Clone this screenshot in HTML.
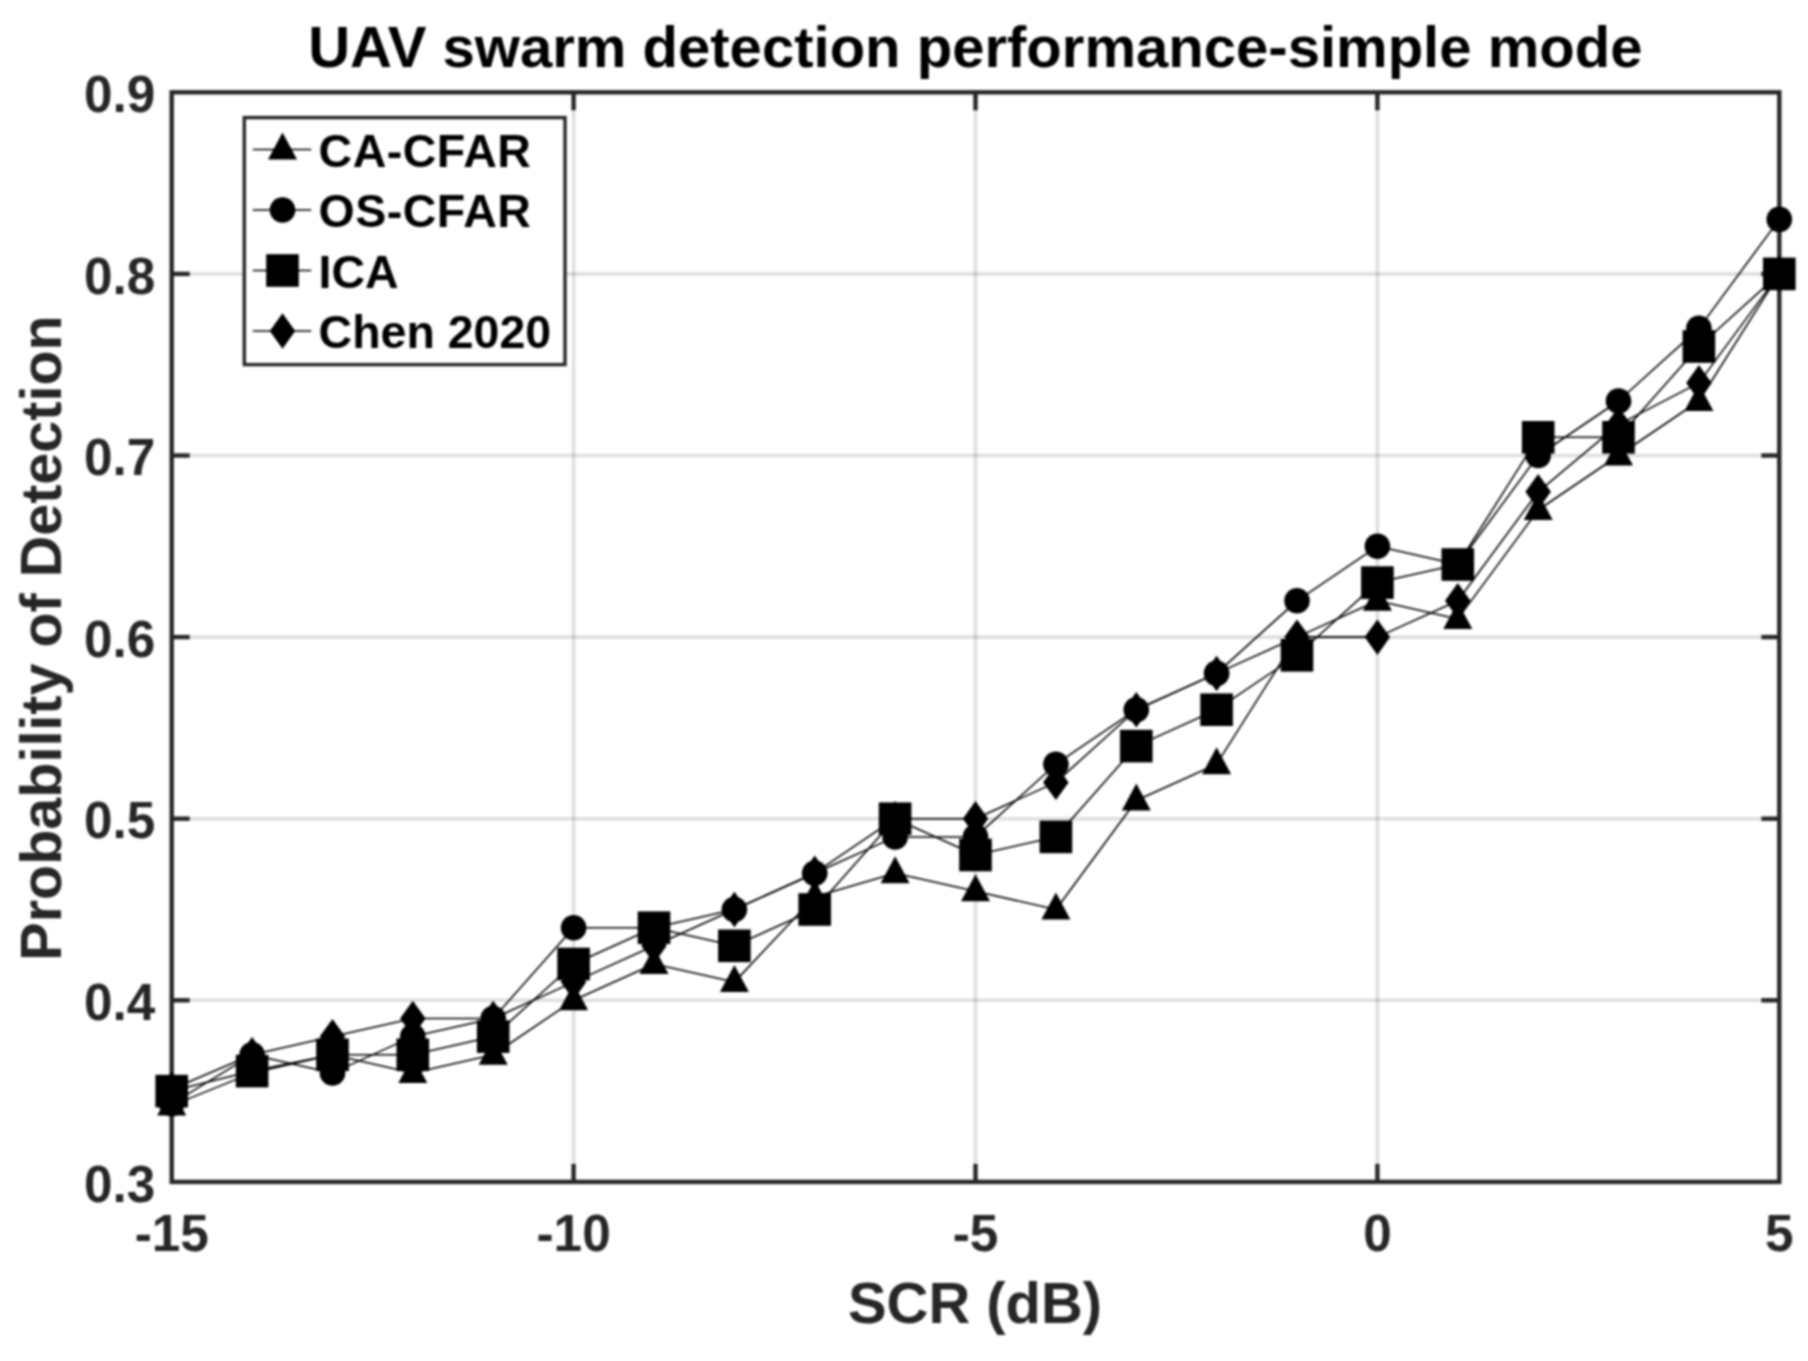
<!DOCTYPE html>
<html lang="en"><head><meta charset="utf-8"><title>UAV swarm detection performance-simple mode</title>
<style>
html,body{margin:0;padding:0;background:#fff;}
body{width:1808px;height:1361px;overflow:hidden;}
svg{display:block;font-family:"Liberation Sans",Arial,Helvetica,sans-serif;font-weight:bold;}
.tick{font-size:51.3px;fill:#262626;}
.lab{font-size:57.5px;fill:#262626;}
.ttl{font-size:58.05px;fill:#000;}
.leg{font-size:46.5px;fill:#000;}
</style></head><body>
<svg width="1808" height="1361" viewBox="0 0 1808 1361">
<defs><filter id="soft" color-interpolation-filters="sRGB" filterUnits="userSpaceOnUse" x="0" y="0" width="1808" height="1361"><feGaussianBlur stdDeviation="0.9" color-interpolation-filters="sRGB"/></filter></defs>
<g filter="url(#soft)">
<rect width="1808" height="1361" fill="#fff"/>
<g stroke="#262626" stroke-opacity="0.15" stroke-width="3.6" fill="none">
<line x1="573.6" y1="92.3" x2="573.6" y2="1181.9"/>
<line x1="975.5" y1="92.3" x2="975.5" y2="1181.9"/>
<line x1="1377.4" y1="92.3" x2="1377.4" y2="1181.9"/>
<line x1="171.7" y1="1000.3" x2="1779.3" y2="1000.3"/>
<line x1="171.7" y1="818.7" x2="1779.3" y2="818.7"/>
<line x1="171.7" y1="637.1" x2="1779.3" y2="637.1"/>
<line x1="171.7" y1="455.5" x2="1779.3" y2="455.5"/>
<line x1="171.7" y1="273.9" x2="1779.3" y2="273.9"/>
</g>
<g stroke="#262626" stroke-width="4.4" fill="none">
<rect x="171.7" y="92.3" width="1607.6" height="1089.6000000000001"/>
<line x1="573.6" y1="1181.9" x2="573.6" y2="1163.9"/>
<line x1="573.6" y1="92.3" x2="573.6" y2="110.3"/>
<line x1="975.5" y1="1181.9" x2="975.5" y2="1163.9"/>
<line x1="975.5" y1="92.3" x2="975.5" y2="110.3"/>
<line x1="1377.4" y1="1181.9" x2="1377.4" y2="1163.9"/>
<line x1="1377.4" y1="92.3" x2="1377.4" y2="110.3"/>
<line x1="171.7" y1="1000.3" x2="189.7" y2="1000.3"/>
<line x1="1779.3" y1="1000.3" x2="1761.3" y2="1000.3"/>
<line x1="171.7" y1="818.7" x2="189.7" y2="818.7"/>
<line x1="1779.3" y1="818.7" x2="1761.3" y2="818.7"/>
<line x1="171.7" y1="637.1" x2="189.7" y2="637.1"/>
<line x1="1779.3" y1="637.1" x2="1761.3" y2="637.1"/>
<line x1="171.7" y1="455.5" x2="189.7" y2="455.5"/>
<line x1="1779.3" y1="455.5" x2="1761.3" y2="455.5"/>
<line x1="171.7" y1="273.9" x2="189.7" y2="273.9"/>
<line x1="1779.3" y1="273.9" x2="1761.3" y2="273.9"/>
</g>
<polyline points="171.7,1105.6 252.1,1072.9 332.5,1054.8 412.8,1072.9 493.2,1054.8 573.6,1000.3 654.0,964.0 734.4,982.1 814.7,896.8 895.1,873.2 975.5,891.3 1055.9,909.5 1136.3,800.5 1216.6,764.2 1297.0,637.1 1377.4,600.8 1457.8,618.9 1538.2,510.0 1618.5,455.5 1698.9,401.0 1779.3,273.9" fill="none" stroke="#000" stroke-width="1.55" stroke-linejoin="round"/>
<g fill="#000"><path d="M171.7 1088.6L186.2 1115.6L157.2 1115.6Z"/><path d="M252.1 1055.9L266.6 1082.9L237.6 1082.9Z"/><path d="M332.5 1037.8L347.0 1064.8L318.0 1064.8Z"/><path d="M412.8 1055.9L427.3 1082.9L398.3 1082.9Z"/><path d="M493.2 1037.8L507.7 1064.8L478.7 1064.8Z"/><path d="M573.6 983.3L588.1 1010.3L559.1 1010.3Z"/><path d="M654.0 947.0L668.5 974.0L639.5 974.0Z"/><path d="M734.4 965.1L748.9 992.1L719.9 992.1Z"/><path d="M814.7 879.8L829.2 906.8L800.2 906.8Z"/><path d="M895.1 856.2L909.6 883.2L880.6 883.2Z"/><path d="M975.5 874.3L990.0 901.3L961.0 901.3Z"/><path d="M1055.9 892.5L1070.4 919.5L1041.4 919.5Z"/><path d="M1136.3 783.5L1150.8 810.5L1121.8 810.5Z"/><path d="M1216.6 747.2L1231.1 774.2L1202.1 774.2Z"/><path d="M1297.0 620.1L1311.5 647.1L1282.5 647.1Z"/><path d="M1377.4 583.8L1391.9 610.8L1362.9 610.8Z"/><path d="M1457.8 601.9L1472.3 628.9L1443.3 628.9Z"/><path d="M1538.2 493.0L1552.7 520.0L1523.7 520.0Z"/><path d="M1618.5 438.5L1633.0 465.5L1604.0 465.5Z"/><path d="M1698.9 384.0L1713.4 411.0L1684.4 411.0Z"/><path d="M1779.3 256.9L1793.8 283.9L1764.8 283.9Z"/></g>
<polyline points="171.7,1103.8 252.1,1054.8 332.5,1072.9 412.8,1036.6 493.2,1018.5 573.6,927.7 654.0,927.7 734.4,909.5 814.7,873.2 895.1,836.9 975.5,836.9 1055.9,764.2 1136.3,709.7 1216.6,673.4 1297.0,600.8 1377.4,546.3 1457.8,564.5 1538.2,455.5 1618.5,401.0 1698.9,328.4 1779.3,219.4" fill="none" stroke="#000" stroke-width="1.55" stroke-linejoin="round"/>
<g fill="#000"><circle cx="171.7" cy="1103.8" r="12.8"/><circle cx="252.1" cy="1054.8" r="12.8"/><circle cx="332.5" cy="1072.9" r="12.8"/><circle cx="412.8" cy="1036.6" r="12.8"/><circle cx="493.2" cy="1018.5" r="12.8"/><circle cx="573.6" cy="927.7" r="12.8"/><circle cx="654.0" cy="927.7" r="12.8"/><circle cx="734.4" cy="909.5" r="12.8"/><circle cx="814.7" cy="873.2" r="12.8"/><circle cx="895.1" cy="836.9" r="12.8"/><circle cx="975.5" cy="836.9" r="12.8"/><circle cx="1055.9" cy="764.2" r="12.8"/><circle cx="1136.3" cy="709.7" r="12.8"/><circle cx="1216.6" cy="673.4" r="12.8"/><circle cx="1297.0" cy="600.8" r="12.8"/><circle cx="1377.4" cy="546.3" r="12.8"/><circle cx="1457.8" cy="564.5" r="12.8"/><circle cx="1538.2" cy="455.5" r="12.8"/><circle cx="1618.5" cy="401.0" r="12.8"/><circle cx="1698.9" cy="328.4" r="12.8"/><circle cx="1779.3" cy="219.4" r="12.8"/></g>
<polyline points="171.7,1091.1 252.1,1071.1 332.5,1054.8 412.8,1054.8 493.2,1036.6 573.6,964.0 654.0,927.7 734.4,945.8 814.7,909.5 895.1,818.7 975.5,855.0 1055.9,836.9 1136.3,746.1 1216.6,709.7 1297.0,655.3 1377.4,582.6 1457.8,564.5 1538.2,437.3 1618.5,437.3 1698.9,346.5 1779.3,273.9" fill="none" stroke="#000" stroke-width="1.55" stroke-linejoin="round"/>
<g fill="#000"><rect x="155.4" y="1074.8" width="32.6" height="32.6"/><rect x="235.8" y="1054.8" width="32.6" height="32.6"/><rect x="316.2" y="1038.5" width="32.6" height="32.6"/><rect x="396.5" y="1038.5" width="32.6" height="32.6"/><rect x="476.9" y="1020.3" width="32.6" height="32.6"/><rect x="557.3" y="947.7" width="32.6" height="32.6"/><rect x="637.7" y="911.4" width="32.6" height="32.6"/><rect x="718.1" y="929.5" width="32.6" height="32.6"/><rect x="798.4" y="893.2" width="32.6" height="32.6"/><rect x="878.8" y="802.4" width="32.6" height="32.6"/><rect x="959.2" y="838.7" width="32.6" height="32.6"/><rect x="1039.6" y="820.6" width="32.6" height="32.6"/><rect x="1120.0" y="729.8" width="32.6" height="32.6"/><rect x="1200.3" y="693.4" width="32.6" height="32.6"/><rect x="1280.7" y="639.0" width="32.6" height="32.6"/><rect x="1361.1" y="566.3" width="32.6" height="32.6"/><rect x="1441.5" y="548.2" width="32.6" height="32.6"/><rect x="1521.9" y="421.0" width="32.6" height="32.6"/><rect x="1602.2" y="421.0" width="32.6" height="32.6"/><rect x="1682.6" y="330.2" width="32.6" height="32.6"/><rect x="1763.0" y="257.6" width="32.6" height="32.6"/></g>
<polyline points="171.7,1089.3 252.1,1054.8 332.5,1036.6 412.8,1018.5 493.2,1018.5 573.6,982.1 654.0,945.8 734.4,909.5 814.7,873.2 895.1,818.7 975.5,818.7 1055.9,782.4 1136.3,709.7 1216.6,673.4 1297.0,637.1 1377.4,637.1 1457.8,600.8 1538.2,491.8 1618.5,424.6 1698.9,382.9 1779.3,273.9" fill="none" stroke="#000" stroke-width="1.55" stroke-linejoin="round"/>
<g fill="#000"><path d="M171.7 1071.5L184.4 1089.3L171.7 1107.0L158.9 1089.3Z"/><path d="M252.1 1037.0L264.8 1054.8L252.1 1072.5L239.3 1054.8Z"/><path d="M332.5 1018.9L345.2 1036.6L332.5 1054.4L319.7 1036.6Z"/><path d="M412.8 1000.7L425.6 1018.5L412.8 1036.2L400.1 1018.5Z"/><path d="M493.2 1000.7L506.0 1018.5L493.2 1036.2L480.5 1018.5Z"/><path d="M573.6 964.4L586.3 982.1L573.6 999.9L560.8 982.1Z"/><path d="M654.0 928.1L666.7 945.8L654.0 963.6L641.2 945.8Z"/><path d="M734.4 891.8L747.1 909.5L734.4 927.2L721.6 909.5Z"/><path d="M814.7 855.4L827.5 873.2L814.7 890.9L802.0 873.2Z"/><path d="M895.1 801.0L907.9 818.7L895.1 836.5L882.4 818.7Z"/><path d="M975.5 801.0L988.2 818.7L975.5 836.5L962.8 818.7Z"/><path d="M1055.9 764.6L1068.6 782.4L1055.9 800.1L1043.1 782.4Z"/><path d="M1136.3 692.0L1149.0 709.7L1136.3 727.5L1123.5 709.7Z"/><path d="M1216.6 655.7L1229.4 673.4L1216.6 691.2L1203.9 673.4Z"/><path d="M1297.0 619.4L1309.8 637.1L1297.0 654.9L1284.3 637.1Z"/><path d="M1377.4 619.4L1390.1 637.1L1377.4 654.9L1364.6 637.1Z"/><path d="M1457.8 583.0L1470.5 600.8L1457.8 618.5L1445.0 600.8Z"/><path d="M1538.2 474.1L1550.9 491.8L1538.2 509.6L1525.4 491.8Z"/><path d="M1618.5 406.9L1631.3 424.6L1618.5 442.4L1605.8 424.6Z"/><path d="M1698.9 365.1L1711.7 382.9L1698.9 400.6L1686.2 382.9Z"/><path d="M1779.3 256.1L1792.0 273.9L1779.3 291.6L1766.5 273.9Z"/></g>
<text class="tick" x="171.7" y="1250.5" text-anchor="middle">-15</text>
<text class="tick" x="573.6" y="1250.5" text-anchor="middle">-10</text>
<text class="tick" x="975.5" y="1250.5" text-anchor="middle">-5</text>
<text class="tick" x="1377.4" y="1250.5" text-anchor="middle">0</text>
<text class="tick" x="1779.3" y="1250.5" text-anchor="middle">5</text>
<text class="tick" x="155.3" y="1201.5" text-anchor="end">0.3</text>
<text class="tick" x="155.3" y="1019.9" text-anchor="end">0.4</text>
<text class="tick" x="155.3" y="838.3" text-anchor="end">0.5</text>
<text class="tick" x="155.3" y="656.7" text-anchor="end">0.6</text>
<text class="tick" x="155.3" y="475.1" text-anchor="end">0.7</text>
<text class="tick" x="155.3" y="293.5" text-anchor="end">0.8</text>
<text class="tick" x="155.3" y="111.9" text-anchor="end">0.9</text>
<text class="ttl" x="975.3" y="67.3" text-anchor="middle">UAV swarm detection performance-simple mode</text>
<text class="lab" style="font-size:57.9px" x="975" y="1323" text-anchor="middle">SCR (dB)</text>
<text class="lab" transform="translate(60.7 638) rotate(-90)" text-anchor="middle">Probability of Detection</text>
<rect x="244.3" y="117.6" width="320.7" height="247.00000000000003" fill="#fff" stroke="#262626" stroke-width="3.4"/>
<line x1="252.8" y1="149.5" x2="311.3" y2="149.5" stroke="#000" stroke-width="1.55"/>
<g fill="#000"><path d="M282.5 132.5L297.0 159.5L268.0 159.5Z"/></g>
<text class="leg" style="letter-spacing:0.5px" x="318.6" y="166.5">CA-CFAR</text>
<line x1="252.8" y1="210" x2="311.3" y2="210" stroke="#000" stroke-width="1.55"/>
<g fill="#000"><circle cx="282.5" cy="210.0" r="12.8"/></g>
<text class="leg" style="letter-spacing:0.5px" x="318.6" y="227">OS-CFAR</text>
<line x1="252.8" y1="270.5" x2="311.3" y2="270.5" stroke="#000" stroke-width="1.55"/>
<g fill="#000"><rect x="266.2" y="254.2" width="32.6" height="32.6"/></g>
<text class="leg" x="318.6" y="287.5">ICA</text>
<line x1="252.8" y1="331" x2="311.3" y2="331" stroke="#000" stroke-width="1.55"/>
<g fill="#000"><path d="M282.5 313.2L295.2 331.0L282.5 348.8L269.8 331.0Z"/></g>
<text class="leg" x="318.6" y="348">Chen 2020</text>
</g></svg></body></html>
